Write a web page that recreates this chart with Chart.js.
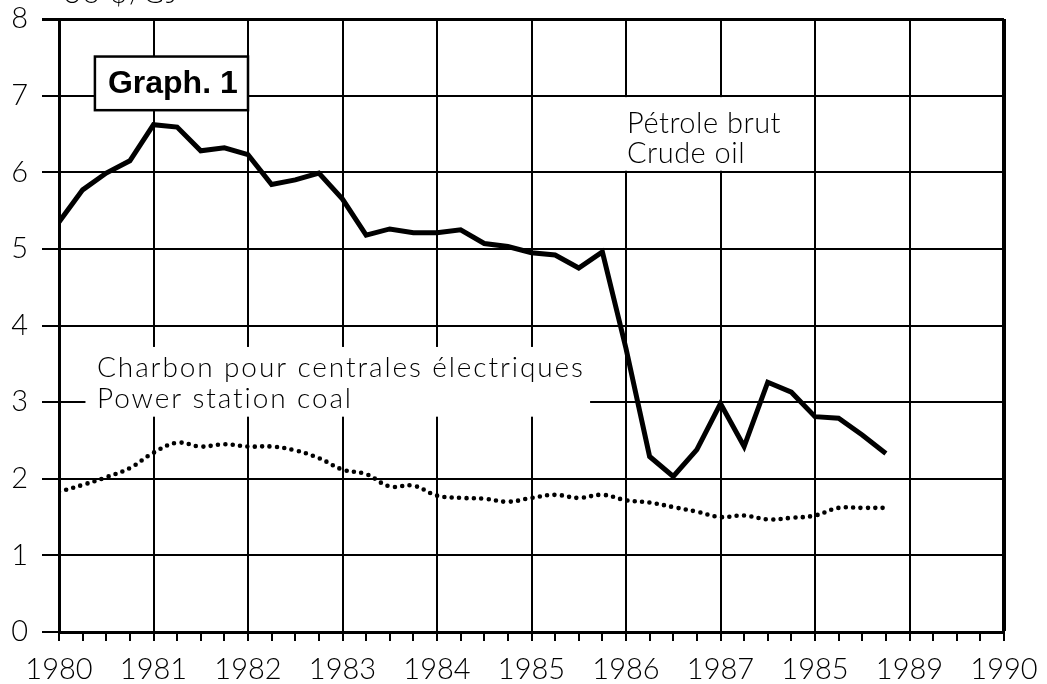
<!DOCTYPE html>
<html>
<head>
<meta charset="utf-8">
<script src="https://cdn.jsdelivr.net/npm/chart.js@4"></script>
<style>
  html, body { margin: 0; padding: 0; background: #fff; }
  #wrap { width: 1047px; height: 684px; }
</style>
</head>
<body>
<div id="wrap"><canvas id="lineChart" width="1047" height="684"></canvas></div>
<script>
// quarterly observations, 1980 Q1 .. 1988 Q4
const quarters = [
  1980, 1980.25, 1980.5, 1980.75, 1981, 1981.25, 1981.5, 1981.75,
  1982, 1982.25, 1982.5, 1982.75, 1983, 1983.25, 1983.5, 1983.75,
  1984, 1984.25, 1984.5, 1984.75, 1985, 1985.25, 1985.5, 1985.75,
  1986, 1986.25, 1986.5, 1986.75, 1987, 1987.25, 1987.5, 1987.75,
  1988, 1988.25, 1988.5, 1988.75
];
const crudeOil = [
  5.35, 5.77, 5.99, 6.15, 6.62, 6.59, 6.28, 6.32,
  6.23, 5.84, 5.90, 5.99, 5.65, 5.18, 5.26, 5.21,
  5.21, 5.25, 5.07, 5.03, 4.95, 4.92, 4.75, 4.96,
  3.70, 2.29, 2.03, 2.38, 2.98, 2.42, 3.26, 3.13,
  2.81, 2.79, 2.57, 2.33
];
const powerCoal = [
  1.83, 1.92, 2.02, 2.14, 2.34, 2.47, 2.42, 2.45,
  2.42, 2.42, 2.37, 2.27, 2.12, 2.06, 1.90, 1.91,
  1.78, 1.75, 1.74, 1.70, 1.75, 1.79, 1.75, 1.79,
  1.72, 1.69, 1.63, 1.57, 1.50, 1.52, 1.47, 1.49,
  1.52, 1.62, 1.62, 1.62
];
const yearLabels = ["1980", "1981", "1982", "1983", "1984", "1985", "1986", "1987", "1985", "1989", "1990"];
const unitLabel = "US $/GJ";
const graphTitle = "Graph. 1";
const crudeLabel = ["Pétrole brut", "Crude oil"];
const coalLabel = ["Charbon pour centrales électriques", "Power station coal"];

const FONT = "Lato, 'DejaVu Sans', sans-serif";

// white label boxes sit over the grid, under the lines
const labelBoxes = {
    id: "labelBoxes",
    beforeDatasetsDraw(chart) {
        const c = chart.ctx;
        const xs = chart.scales.x, ys = chart.scales.y;
        c.save();

        // unit, mostly cut off at the top edge
        c.fillStyle = "#000";
        c.font = "300 28px " + FONT;
        c.textBaseline = "alphabetic";
        c.letterSpacing = "2px";
        c.fillText(unitLabel, 62, 3);

        // Graph. 1
        let l = xs.getPixelForValue(1980.38), r = xs.getPixelForValue(1982);
        let t = ys.getPixelForValue(7.51), b = ys.getPixelForValue(6.81);
        c.fillStyle = "#fff";
        c.fillRect(l, t, r - l, b - t);
        c.lineWidth = 2.5;
        c.strokeStyle = "#000";
        c.strokeRect(l, t, r - l, b - t);
        c.fillStyle = "#000";
        c.letterSpacing = "0px";
        c.font = "bold 32px 'Liberation Sans', Arial, sans-serif";
        c.textBaseline = "middle";
        c.fillText(graphTitle, l + 13, (t + b) / 2 + 1);

        // crude oil label
        l = xs.getPixelForValue(1985) + 1.5; r = xs.getPixelForValue(1988) - 1.5;
        t = ys.getPixelForValue(7) + 1.5; b = ys.getPixelForValue(6) - 1.5;
        c.fillStyle = "#fff";
        c.fillRect(l, t, r - l, b - t);
        c.fillStyle = "#000";
        c.font = "300 29px " + FONT;
        c.letterSpacing = "0.5px";
        c.textBaseline = "alphabetic";
        c.fillText(crudeLabel[0], 627, 133);
        c.fillText(crudeLabel[1], 627, 163);

        // coal label
        l = xs.getPixelForValue(1980.28); r = xs.getPixelForValue(1985.62);
        t = ys.getPixelForValue(3.72); b = ys.getPixelForValue(2.81);
        c.fillStyle = "#fff";
        c.fillRect(l, t, r - l, b - t);
        c.fillStyle = "#000";
        c.font = "300 28px " + FONT;
        c.letterSpacing = "1.9px";
        c.fillText(coalLabel[0], 97, 377);
        c.fillText(coalLabel[1], 97, 408);

        c.restore();
    }
};

document.addEventListener("DOMContentLoaded", function () {
    const ctx = document.getElementById("lineChart").getContext("2d");

    new Chart(ctx, {
        type: "line",
        data: {
            datasets: [
                {
                    label: "Crude oil",
                    data: quarters.map((q, i) => ({ x: q, y: crudeOil[i] })),
                    borderColor: "#000",
                    borderWidth: 5,
                    borderJoinStyle: "miter",
                    pointRadius: 0,
                    tension: 0,
                },
                {
                    label: "Power station coal",
                    data: quarters.map((q, i) => ({ x: q, y: powerCoal[i] })),
                    borderColor: "#000",
                    borderWidth: 4.6,
                    borderDash: [0, 7.4], // round dots
                    borderCapStyle: "round",
                    pointRadius: 0,
                    tension: 0.4,
                },
            ],
        },
        options: {
            responsive: false,
            animation: false,
            layout: { padding: { top: 19, right: 43, left: 0, bottom: 0 } },
            plugins: {
                legend: { display: false },
                tooltip: { enabled: false },
            },
            scales: {
                x: {
                    type: "linear",
                    min: 1980,
                    max: 1990,
                    afterBuildTicks(scale) {
                        // quarter marks under the axis, labels on whole years
                        const t = [];
                        for (let v = 1980; v <= 1990; v += 0.25) t.push({ value: v });
                        scale.ticks = t;
                    },
                    afterFit(scale) {
                        scale.height = 52;
                        scale.paddingLeft = 0;
                        scale.paddingRight = 0;
                    },
                    grid: {
                        color: c => Number.isInteger(c.tick.value) ? "#000" : "rgba(0,0,0,0)",
                        tickColor: "#000",
                        lineWidth: c => c.tick.value === 1990 ? 4 : 2,
                        tickWidth: 2,
                        tickLength: 9,
                    },
                    border: { display: true, color: "#000", width: 3 },
                    ticks: {
                        autoSkip: false,
                        maxRotation: 0,
                        color: "#000",
                        padding: 11,
                        font: { family: FONT, size: 29, weight: "300" },
                        callback: v => Number.isInteger(v) ? yearLabels[v - 1980] : "",
                    },
                },
                y: {
                    min: 0,
                    max: 8,
                    afterFit(scale) {
                        scale.width = 59;
                        scale.paddingTop = 0;
                        scale.paddingBottom = 0;
                    },
                    grid: {
                        color: "#000",
                        lineWidth: c => c.tick.value === 8 ? 3 : 2,
                        tickLength: 17,
                    },
                    border: { display: true, color: "#000", width: 3 },
                    ticks: {
                        stepSize: 1,
                        color: "#000",
                        padding: 14,
                        font: { family: FONT, size: 29, weight: "300" },
                    },
                },
            },
        },
        plugins: [labelBoxes],
    });
});
</script>
</body>
</html>
